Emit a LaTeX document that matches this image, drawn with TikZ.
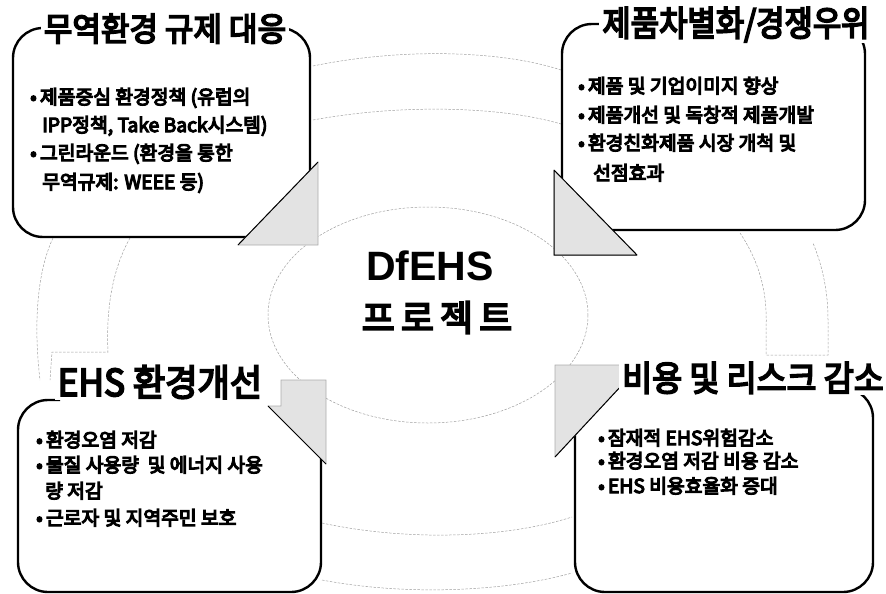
\documentclass[tikz,border=0pt]{standalone}
\usepackage{fontspec}
\setmainfont{Noto Sans CJK KR}
\newfontfamily\bodyfont{Noto Sans CJK KR}[FakeBold=6]
\newfontfamily\tlfont{Noto Sans CJK KR}[FakeStretch=0.94, FakeBold=5]
\newfontfamily\trfont{Noto Sans CJK KR}[FakeStretch=0.88, FakeBold=5]
\newfontfamily\blfont{Noto Sans CJK KR}[FakeStretch=0.95, FakeBold=5]
\newfontfamily\brfont{Noto Sans CJK KR}[FakeStretch=0.93, FakeBold=5]
\newfontfamily\midfont{Noto Sans CJK KR}[FakeBold=5]
\newfontfamily\latinfont{Liberation Sans}
\begin{document}
\begin{tikzpicture}[x=1pt,y=-1pt,
  box/.style={line width=2.4pt, rounded corners=30pt},
  ttl/.style={fill=white, inner xsep=3pt, inner ysep=1pt, anchor=base},
  item/.style={anchor=base west, inner sep=0pt, font=\bodyfont\fontsize{19.3}{23}\selectfont},
  ring/.style={gray!75, line width=0.5pt, dash pattern=on 2.5pt off 1.5pt},
  shade/.style={fill=gray!22, draw=gray!65, line width=0.6pt},
  edge/.style={line width=1pt}]
\useasboundingbox (0,0) rectangle (886,594);
% faint ring in the background
\draw[ring] (313,66) .. controls (400,48) and (500,50) .. (561,70);
\draw[ring] (313,120) .. controls (400,104) and (500,106) .. (561,124);
\draw[ring] (322,523) .. controls (400,540) and (500,540) .. (572,517);
\draw[ring] (322,580) .. controls (400,595) and (500,593) .. (572,573);
\draw[ring] (53,238) .. controls (38,270) and (33,320) .. (40,380);
\draw[ring] (130,238) .. controls (112,270) and (106,310) .. (108,352) -- (52,352) -- (50,380);
\draw[ring] (740,233) .. controls (758,260) and (768,290) .. (766,330) -- (766,355) -- (828,355) -- (828,320) .. controls (828,290) and (822,265) .. (813,243);
\draw[ring] (428,315) ellipse [x radius=160, y radius=108];
% boxes
\draw[box] (13,28) rectangle (310,237);
\draw[box] (562,24) rectangle (865,230);
\draw[box] (60,400) -- (18,400) -- (18,592) -- (321,592) -- (321,440);
\draw[box] (575,388) rectangle (873,592);
% gray arrow heads
\path[shade] (318,162) -- (318,245) -- (238,245) -- cycle;
\draw[edge] (318,162) -- (238,245);
\path[shade] (554,170) -- (554,255) -- (637,255) -- cycle;
\draw[edge] (554,170) -- (637,255) (554,170) -- (554,255) -- (637,255);
\path[shade] (281,380) -- (326,380) -- (326,464) -- (268,406) -- (281,406) -- cycle;
\draw[edge] (268,406) -- (326,464);
\path[shade] (555,365) -- (619,365) -- (622,369) -- (622,385) -- (555,457) -- cycle;
\draw[edge] (622,385) -- (555,457);
% titles
\node[ttl, font=\tlfont\fontsize{33}{36}\selectfont] (t1) at (165,41) {무역환경 규제 대응};
\node[ttl, font=\trfont\fontsize{35}{38}\selectfont] (t2) at (736,36) {제품차별화/경쟁우위};
\node[ttl, font=\blfont\fontsize{37}{40}\selectfont] (t3) at (160,396) {EHS 환경개선};
\node[ttl, font=\brfont\fontsize{35}{38}\selectfont] (t4) at (753,391) {비용 및 리스크 감소};
% centre
\node[anchor=base, inner sep=0pt, font=\latinfont\bfseries\fontsize{41}{45}\selectfont] (c1) at (430,280) {DfEHS};
\node[anchor=base, inner sep=0pt, font=\midfont\fontsize{36}{40}\selectfont] (c2) at (437,331) {프\,로\,젝\,트};
% items
\node[item] (a1) at (30,104) {•\,제품중심 환경정책 (유럽의};
\node[item] (a2) at (42,132) {IPP정책, Take Back시스템)};
\node[item] (a3) at (30,160) {•\,그린라운드 (환경을 통한};
\node[item] (a4) at (42,189) {무역규제: WEEE 등)};
\node[item] (b1) at (578,93) {•\,제품 및 기업이미지 향상};
\node[item] (b2) at (578,122) {•\,제품개선 및 독창적 제품개발};
\node[item] (b3) at (578,150) {•\,환경친화제품 시장 개척 및};
\node[item] (b4) at (593,180) {선점효과};
\node[item] (d1) at (36,447) {•\,환경오염 저감};
\node[item] (d2) at (36,472) {•\,물질 사용량~ 및 에너지 사용};
\node[item] (d3) at (45,498) {량 저감};
\node[item] (d4) at (36,525) {•\,근로자 및 지역주민 보호};
\node[item] (e1) at (598,445) {•\,잠재적 EHS위험감소};
\node[item] (e2) at (598,468) {•\,환경오염 저감 비용 감소};
\node[item] (e3) at (598,493) {•\,EHS 비용효율화 증대};
\end{tikzpicture}
\end{document}
